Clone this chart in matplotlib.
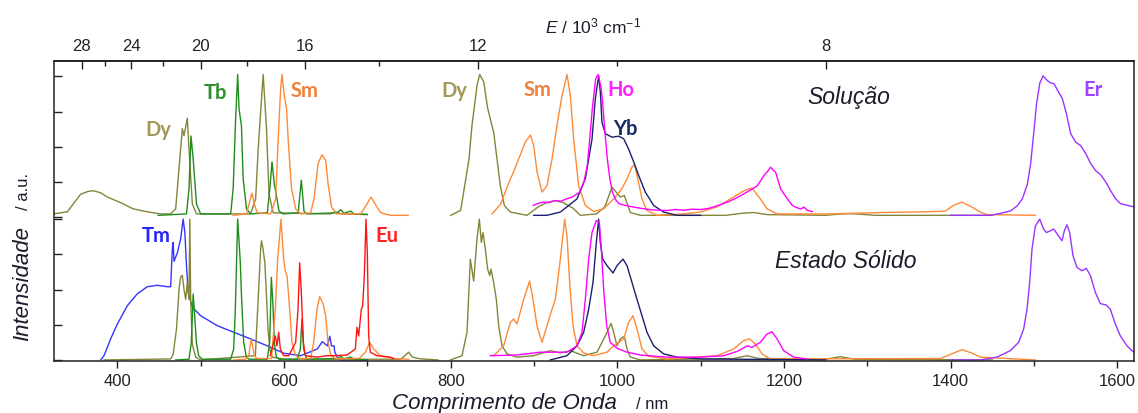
import numpy as np
import matplotlib
matplotlib.use("Agg")
import matplotlib.pyplot as plt
from matplotlib.ticker import FixedLocator, NullFormatter

# ==========================
# Spectra: (wavelength nm, normalised intensity)
# ==========================

# --- Solução (upper stack) ---
sol_dy_vis = [(323, 0.01), (340, 0.025), (356, 0.15), (365, 0.17), (371, 0.175), (380, 0.16), (388, 0.13),
              (404, 0.09), (419, 0.046), (436, 0.025), (452, 0.01), (464, 0.01), (470, 0.046), (474, 0.33),
              (478, 0.616), (480, 0.565), (484, 0.69), (486, 0.47), (490, 0.08), (495, 0.01), (560, 0.01),
              (566, 0.117), (569, 0.47), (575, 1.0), (579, 0.616), (582, 0.15), (587, 0.018), (655, 0.01),
              (662, 0.025), (669, 0.01), (700, 0.005)]
sol_dy_nir = [(800, 0.0), (812, 0.035), (822, 0.40), (825.6, 0.64), (831.6, 0.92), (834.8, 1.0), (839.6, 0.95),
              (844.4, 0.76), (851.6, 0.59), (855.6, 0.40), (859.6, 0.21), (864.4, 0.07), (871.6, 0.023),
              (891.6, 0.0), (905, 0.06), (915, 0.09), (925, 0.105), (935, 0.09), (947, 0.05), (955.6, 0.0),
              (975, 0.01), (985, 0.06), (993.6, 0.2), (1003.6, 0.13), (1008.4, 0.14), (1015.6, 0.02),
              (1027.6, 0.0), (1130, 0.0), (1150, 0.015), (1163.6, 0.02), (1180, 0.005), (1250, 0.0),
              (1268, 0.01), (1280, 0.012), (1292, 0.008), (1310, 0.0), (1450, 0.0)]
sol_tb = [(449, 0.0), (483, 0.01), (486, 0.19), (488.4, 0.564), (491, 0.40), (495, 0.08), (500, 0.01),
          (536, 0.01), (539, 0.19), (542, 0.69), (544.4, 1.0), (546, 0.76), (549, 0.63), (551, 0.26),
          (555, 0.046), (560, 0.01), (580, 0.018), (583, 0.19), (585.6, 0.38), (588.4, 0.22), (591.6, 0.117),
          (594, 0.03), (599, 0.01), (617, 0.018), (620.8, 0.25), (624, 0.03), (627, 0.01), (664, 0.018),
          (668, 0.04), (672, 0.015), (680, 0.03), (684, 0.01), (700, 0.007)]
sol_sm_vis = [(539, 0.0), (555, 0.01), (558, 0.08), (561.6, 0.158), (564.4, 0.08), (568, 0.018), (584, 0.01),
              (590, 0.117), (593, 0.54), (596, 0.90), (597.6, 1.0), (600, 0.865), (603, 0.76), (605, 0.54),
              (609, 0.19), (614, 0.046), (620, 0.01), (632, 0.018), (636, 0.117), (641, 0.37), (645.6, 0.43),
              (650, 0.39), (653, 0.22), (657, 0.06), (663, 0.01), (692, 0.01), (699, 0.075), (704.4, 0.13),
              (710, 0.075), (716, 0.018), (728, 0.0), (749, 0.0)]
sol_sm_nir = [(849.6, 0.01), (860, 0.08), (869, 0.22), (875.6, 0.31), (881.6, 0.40), (889.6, 0.52),
              (895.6, 0.57), (899.6, 0.497), (903.6, 0.31), (909.6, 0.165), (915.6, 0.21), (921.6, 0.40),
              (927.6, 0.64), (933.6, 0.85), (939.6, 1.0), (943.6, 0.85), (947.6, 0.54), (953.6, 0.21),
              (961.6, 0.07), (971.6, 0.027), (983.6, 0.046), (995.6, 0.117), (1005.6, 0.19), (1011.6, 0.26),
              (1017.6, 0.343), (1020.8, 0.36), (1024.4, 0.26), (1029.6, 0.117), (1035.6, 0.034), (1047.6, 0.0),
              (1080, 0.01), (1099.6, 0.023), (1119.6, 0.06), (1139.6, 0.13), (1152, 0.175), (1161.6, 0.194),
              (1171.6, 0.117), (1179.6, 0.046), (1191.6, 0.01), (1256, 0.01), (1316, 0.02), (1370, 0.025),
              (1393.6, 0.03), (1403, 0.07), (1413.6, 0.094), (1425, 0.06), (1435.6, 0.023), (1443.6, 0.005),
              (1501.6, 0.0)]
sol_ho = [(899, 0.07), (905, 0.085), (911, 0.094), (918, 0.09), (925, 0.105), (932, 0.10), (939, 0.117),
          (946, 0.13), (955, 0.165), (960, 0.24), (964, 0.354), (967, 0.55), (970, 0.76), (974, 0.97),
          (977, 1.0), (980, 0.92), (982, 0.83), (985, 0.60), (988, 0.40), (991, 0.26), (994, 0.165),
          (998, 0.11), (1002, 0.082), (1010, 0.07), (1020, 0.058), (1030, 0.048), (1040, 0.04), (1050, 0.036),
          (1060, 0.034), (1070, 0.042), (1080, 0.036), (1090, 0.044), (1100, 0.041), (1110, 0.05),
          (1120, 0.068), (1132, 0.094), (1142, 0.12), (1152, 0.153), (1160, 0.18), (1168, 0.21), (1176, 0.283),
          (1180, 0.31), (1184, 0.342), (1187, 0.32), (1190, 0.306), (1196, 0.187), (1204, 0.117), (1210, 0.07),
          (1214, 0.058), (1220, 0.045), (1224, 0.058), (1228, 0.035), (1234, 0.027)]
sol_yb = [(899.6, 0.0), (915.6, 0.0), (931.6, 0.023), (951.6, 0.117), (961.6, 0.26), (969.6, 0.54),
          (973.6, 0.83), (977.6, 0.99), (979.6, 0.876), (981.6, 0.66), (985.6, 0.58), (993.6, 0.555),
          (1001.6, 0.562), (1007.6, 0.544), (1013.6, 0.47), (1019.6, 0.38), (1025.6, 0.283), (1033.6, 0.165),
          (1043.6, 0.07), (1055.6, 0.023), (1071.6, 0.0), (1100, 0.0)]
sol_er = [(1400, 0.0), (1448, 0.0), (1460, 0.014), (1472, 0.032), (1480, 0.068), (1486, 0.117), (1492, 0.22),
          (1496, 0.367), (1499.6, 0.58), (1503, 0.79), (1507, 0.94), (1511, 0.99), (1516, 0.957), (1520, 0.94),
          (1524, 0.935), (1529, 0.88), (1534, 0.83), (1539, 0.72), (1544, 0.58), (1550, 0.52), (1556, 0.495),
          (1562, 0.44), (1568, 0.367), (1574, 0.317), (1580, 0.288), (1586, 0.238), (1592, 0.174),
          (1598, 0.117), (1604, 0.082), (1620, 0.06)]

# --- Estado Sólido (lower stack) ---
sol_tm = [(380, 0.0), (384, 0.03), (392, 0.15), (400, 0.255), (412, 0.385), (424, 0.47), (436, 0.52),
          (448, 0.53), (460, 0.52), (464, 0.52), (466, 0.79), (467, 0.835), (468, 0.70), (472, 0.76),
          (476, 0.86), (479, 1.0), (481, 0.905), (483, 0.67), (485, 0.48), (490, 0.374), (500, 0.314),
          (520, 0.243), (540, 0.196), (560, 0.149), (580, 0.10), (600, 0.047), (620, 0.03), (640, 0.078),
          (646, 0.13), (652, 0.10), (655, 0.168), (657, 0.10), (660, 0.10), (661, 0.055), (664, 0.02),
          (668, 0.0), (700, 0.0)]
sd_dy_vis = [(384, 0.0), (464, 0.007), (467, 0.04), (471, 0.22), (474, 0.50), (476, 0.59), (478, 0.60),
             (480, 0.50), (482, 0.43), (484, 0.55), (486, 0.43), (487, 1.0), (488, 0.43), (490, 0.11),
             (494, 0.02), (500, 0.0), (565.6, 0.03), (568.4, 0.36), (572, 0.79), (573, 0.846), (574.8, 0.79),
             (577, 0.69), (579, 0.456), (580.8, 0.22), (583, 0.078), (585.6, 0.02), (600, 0.005), (740, 0.005),
             (745, 0.03), (749.6, 0.055), (754, 0.02), (763, 0.008), (785, 0.0)]
sd_dy_nir = [(799.6, 0.0), (813.6, 0.03), (819.6, 0.196), (823.6, 0.716), (827.6, 0.56), (831.6, 0.86),
             (834.4, 1.0), (836.8, 0.835), (838.8, 0.905), (841.6, 0.787), (844.4, 0.645), (846.8, 0.60),
             (848.4, 0.645), (851.6, 0.55), (854.8, 0.43), (857.6, 0.243), (861.6, 0.10), (867.6, 0.043),
             (879.6, 0.02), (899.6, 0.03), (919.6, 0.066), (931.6, 0.05), (943.6, 0.066), (959.6, 0.03),
             (975.6, 0.055), (981.6, 0.125), (987.6, 0.196), (992.4, 0.26), (995.6, 0.196), (999.6, 0.10),
             (1003.6, 0.15), (1008.4, 0.168), (1011.6, 0.078), (1015.6, 0.02), (1027.6, 0.0), (1140, 0.01),
             (1155.6, 0.03), (1170, 0.01), (1250, 0.005), (1267.6, 0.023), (1285, 0.005), (1450, 0.0)]
sd_tb = [(470, 0.0), (486, 0.005), (488.8, 0.125), (491, 0.468), (493, 0.30), (494.8, 0.125), (497.6, 0.03),
         (502, 0.005), (536, 0.005), (539.6, 0.078), (541.6, 0.36), (544.4, 1.0), (547.6, 0.69), (549, 0.456),
         (551.6, 0.125), (554.8, 0.02), (558, 0.005), (580, 0.005), (582.8, 0.125), (584.8, 0.587),
         (586.8, 0.385), (588.4, 0.125), (590.8, 0.02), (594, 0.005), (616, 0.005), (619.6, 0.078),
         (621.6, 0.29), (623.6, 0.078), (627, 0.005), (664, 0.01), (668, 0.025), (672, 0.008), (680, 0.02),
         (684, 0.005), (700, 0.0)]
sd_sm_vis = [(539.6, 0.0), (554, 0.005), (557.6, 0.03), (560.8, 0.149), (564.4, 0.03), (568, 0.01), (585, 0.01),
             (589.6, 0.36), (592.4, 0.716), (596.4, 1.0), (599.6, 0.716), (601.6, 0.63), (603.6, 0.60),
             (606.8, 0.36), (609.6, 0.125), (614, 0.03), (620, 0.01), (632, 0.01), (635.6, 0.125), (639.6, 0.36),
             (642.8, 0.45), (646.8, 0.40), (650, 0.314), (652.8, 0.125), (656.4, 0.03), (662, 0.01), (690, 0.01),
             (697.6, 0.055), (702.8, 0.125), (707.6, 0.078), (715.6, 0.03), (731.6, 0.01), (749.6, 0.005)]
sd_sm_nir = [(851.6, 0.03), (863.6, 0.10), (871.6, 0.267), (875.6, 0.29), (879.6, 0.255), (887.6, 0.43),
             (894.8, 0.56), (898.8, 0.43), (903.6, 0.243), (909.6, 0.125), (915.6, 0.243), (921.6, 0.36),
             (925.6, 0.43), (931.6, 0.716), (936.8, 1.0), (939.6, 0.88), (942.8, 0.55), (946.8, 0.243),
             (951.6, 0.10), (959.6, 0.05), (971.6, 0.03), (987.6, 0.055), (995.6, 0.10), (1007.6, 0.15),
             (1013.6, 0.267), (1018.8, 0.314), (1023.6, 0.22), (1029.6, 0.078), (1037.6, 0.026), (1059.6, 0.007),
             (1119.6, 0.03), (1139.6, 0.078), (1151.6, 0.137), (1158.8, 0.15), (1165.6, 0.113), (1173.6, 0.043),
             (1183.6, 0.007), (1387.6, 0.01), (1400, 0.04), (1413.6, 0.073), (1425, 0.05), (1435.6, 0.02),
             (1501.6, 0.0)]
sd_eu = [(583.6, 0.03), (587.6, 0.125), (589.6, 0.17), (591.6, 0.10), (593.6, 0.196), (595.6, 0.078),
         (599.6, 0.03), (605.6, 0.03), (614, 0.125), (616.8, 0.36), (618.8, 0.69), (620.8, 0.48), (623.2, 0.125),
         (625.6, 0.03), (639.6, 0.02), (651.6, 0.03), (659.6, 0.03), (675.6, 0.035), (685.6, 0.078),
         (687.6, 0.232), (689.6, 0.17), (692.8, 0.36), (694.4, 0.385), (696.4, 0.60), (698.4, 1.0), (700, 0.76),
         (701.6, 0.17), (703.6, 0.055), (711.6, 0.03), (727.6, 0.02), (731.6, 0.01)]
sd_ho = [(847.6, 0.03), (879.6, 0.035), (907.6, 0.055), (939.6, 0.055), (951.6, 0.10), (957.6, 0.196),
         (961.6, 0.43), (965.6, 0.716), (969.6, 0.905), (974.8, 0.99), (978.4, 0.977), (980.8, 0.787),
         (983.6, 0.50), (987.2, 0.243), (991.6, 0.125), (999.6, 0.083), (1011.6, 0.055), (1027.6, 0.035),
         (1059.6, 0.02), (1099.6, 0.02), (1127.6, 0.03), (1143.6, 0.06), (1155.6, 0.10), (1161.6, 0.09),
         (1171.6, 0.125), (1179.6, 0.184), (1185.6, 0.2), (1191.6, 0.15), (1199.6, 0.066), (1211.6, 0.02),
         (1227.6, 0.007)]
sd_yb = [(919.6, 0.0), (939.6, 0.03), (951.6, 0.10), (959.6, 0.196), (965.6, 0.36), (970.8, 0.55),
         (974.8, 0.835), (977.6, 1.0), (979.6, 0.835), (982.4, 0.716), (987.6, 0.67), (994.8, 0.617),
         (999.6, 0.67), (1006.8, 0.716), (1011.6, 0.67), (1017.6, 0.55), (1023.6, 0.43), (1029.6, 0.314),
         (1035.6, 0.196), (1043.6, 0.10), (1055.6, 0.043), (1071.6, 0.02), (1099.6, 0.007), (1250, 0.0)]
sd_er = [(1399.6, 0.0), (1435.6, 0.0), (1455.6, 0.02), (1471.6, 0.066), (1481.6, 0.125), (1487.6, 0.22),
         (1491.6, 0.36), (1494.8, 0.55), (1497.6, 0.787), (1501.6, 0.95), (1506.8, 1.0), (1511.6, 0.93),
         (1514.8, 0.905), (1519.6, 0.917), (1523.6, 0.93), (1529.6, 0.88), (1533.6, 0.846), (1536.4, 0.917),
         (1539.6, 0.96), (1542.8, 0.905), (1546.8, 0.74), (1551.6, 0.657), (1557.6, 0.633), (1562.8, 0.65),
         (1567.6, 0.60), (1573.6, 0.48), (1579.6, 0.40), (1586.8, 0.39), (1591.6, 0.36), (1597.6, 0.255),
         (1603.6, 0.17), (1611.6, 0.10), (1619.6, 0.055)]

# eixos
bottom_ticks = [400, 600, 800, 1000, 1200, 1400, 1600]
bottom_minor = [500, 700, 900, 1100, 1300, 1500]
top_ticks = [28, 24, 20, 16, 12, 8]
top_minor = [26, 22, 18, 14, 10]

# ==========================
# Figure
# ==========================
plt.rcParams['font.family'] = ['Liberation Sans', 'DejaVu Sans']
plt.rcParams['mathtext.fontset'] = 'custom'
plt.rcParams['mathtext.rm'] = 'Liberation Sans'
plt.rcParams['mathtext.it'] = 'Liberation Sans:italic'

W, H = 1138, 414
OFF = 1.027  # deslocamento da pilha superior

fig = plt.figure(figsize=(W / 100, H / 100), dpi=100)
ax = fig.add_axes([54 / W, 1 - 361.5 / H, (1134 - 54) / W, (361.5 - 62) / H])


def fx(px):
    return px / W


def fy(py):
    return 1 - py / H


def draw(pairs, color, off=0.0, lw=1.0):
    xs = [p[0] for p in pairs]
    ys = [p[1] + off for p in pairs]
    ax.plot(xs, ys, color=color, lw=lw, solid_joinstyle='round')


c_dy = '#85853a'
c_tb = '#1f8c1f'
c_sm = '#ff8a35'
c_eu = '#ff1414'
c_tm = '#3535ff'
c_ho = '#ff00ff'
c_yb = '#1c1f6e'
c_er = '#9a33ff'

# superior
draw(sol_dy_vis, c_dy, OFF)
draw(sol_tb, c_tb, OFF)
draw(sol_sm_vis, c_sm, OFF)
draw(sol_dy_nir, c_dy, OFF)
draw(sol_sm_nir, c_sm, OFF)
draw(sol_yb, c_yb, OFF)
draw(sol_ho, c_ho, OFF)
draw(sol_er, c_er, OFF)

# inferior
draw(sol_tm, c_tm)
draw(sd_dy_vis, c_dy)
draw(sd_tb, c_tb)
draw(sd_sm_vis, c_sm)
draw(sd_eu, c_eu)
draw(sd_dy_nir, c_dy)
draw(sd_sm_nir, c_sm)
draw(sd_yb, c_yb)
draw(sd_ho, c_ho)
draw(sd_er, c_er)

ax.set_xlim(324, 1620)
ax.set_ylim(-0.004, 2.123)

for s in ax.spines.values():
    s.set_linewidth(1.1)
    s.set_color('#222222')

ax.set_xticks(bottom_ticks)
ax.xaxis.set_minor_locator(FixedLocator(bottom_minor))
ax.tick_params(axis='x', which='major', direction='out', length=5, width=1.0,
               labelsize=12, pad=4, colors='#222222')
ax.tick_params(axis='x', which='minor', direction='out', length=3.5, width=1.0, colors='#222222')

ax.set_yticks([0, 0.25, 0.5, 0.75, 1.0, 1.014, 1.264, 1.514, 1.764, 2.014])
ax.yaxis.set_major_formatter(NullFormatter())
ax.tick_params(axis='y', direction='in', length=6, width=1.0, colors='#222222')


def nm_to_e(x):
    x = np.asarray(x, dtype=float)
    with np.errstate(divide='ignore', invalid='ignore'):
        return 1e4 / x


sec = ax.secondary_xaxis('top', functions=(nm_to_e, nm_to_e))
sec.set_xticks(top_ticks)
sec.set_xticklabels([str(t) for t in top_ticks])
sec.xaxis.set_minor_locator(FixedLocator(top_minor))
sec.tick_params(axis='x', which='major', direction='in', length=6, width=1.0,
                labelsize=12, pad=6, colors='#222222')
sec.tick_params(axis='x', which='minor', direction='in', length=3.5, width=1.0, colors='#222222')
sec.spines['top'].set_linewidth(1.1)

# rótulos dos íons
lab = dict(family=['Lato', 'DejaVu Sans'], fontweight='bold', fontsize=14.5, ha='center', va='center')
fig.text(fx(158.5), fy(130), 'Dy', color='#a39758', **lab)
fig.text(fx(215), fy(93), 'Tb', color='#2e8f2e', **lab)
fig.text(fx(305), fy(91), 'Sm', color='#f0813a', **lab)
fig.text(fx(454), fy(91), 'Dy', color='#a39758', **lab)
fig.text(fx(538), fy(90), 'Sm', color='#f0813a', **lab)
fig.text(fx(621), fy(90), 'Ho', color='#ff22ff', **lab)
fig.text(fx(625), fy(129), 'Yb', color='#1c2a66', **lab)
fig.text(fx(1093), fy(90), 'Er', color='#a044ff', **lab)
fig.text(fx(156), fy(236), 'Tm', color='#2424ff', **lab)
fig.text(fx(387), fy(236), 'Eu', color='#ff2424', **lab)

fig.text(fx(849), fy(98), 'Solução', fontsize=16.5, style='italic', color='#1c1c2c', ha='center', va='center')
fig.text(fx(846), fy(262), 'Estado Sólido', fontsize=16.5, style='italic', color='#1c1c2c',
         ha='center', va='center')

# títulos dos eixos
fig.text(fx(392), fy(409.5), 'Comprimento de Onda', fontsize=16, style='italic', color='#1c1c2c',
         ha='left', va='baseline')
fig.text(fx(636), fy(409.5), '/ nm', fontsize=12, color='#1c1c2c', ha='left', va='baseline')
fig.text(fx(28), fy(341), 'Intensidade', fontsize=16, style='italic', color='#1c1c2c', rotation=90,
         rotation_mode='anchor', ha='left', va='baseline')
fig.text(fx(28), fy(210), '/ a.u.', fontsize=12, color='#1c1c2c', rotation=90,
         rotation_mode='anchor', ha='left', va='baseline')
fig.text(fx(545), fy(33), r'$\mathit{E}$ / 10$^{3}$ cm$^{-1}$', fontsize=12.5, color='#1c1c2c',
         ha='left', va='baseline')

fig.savefig('out.png', dpi=100)
